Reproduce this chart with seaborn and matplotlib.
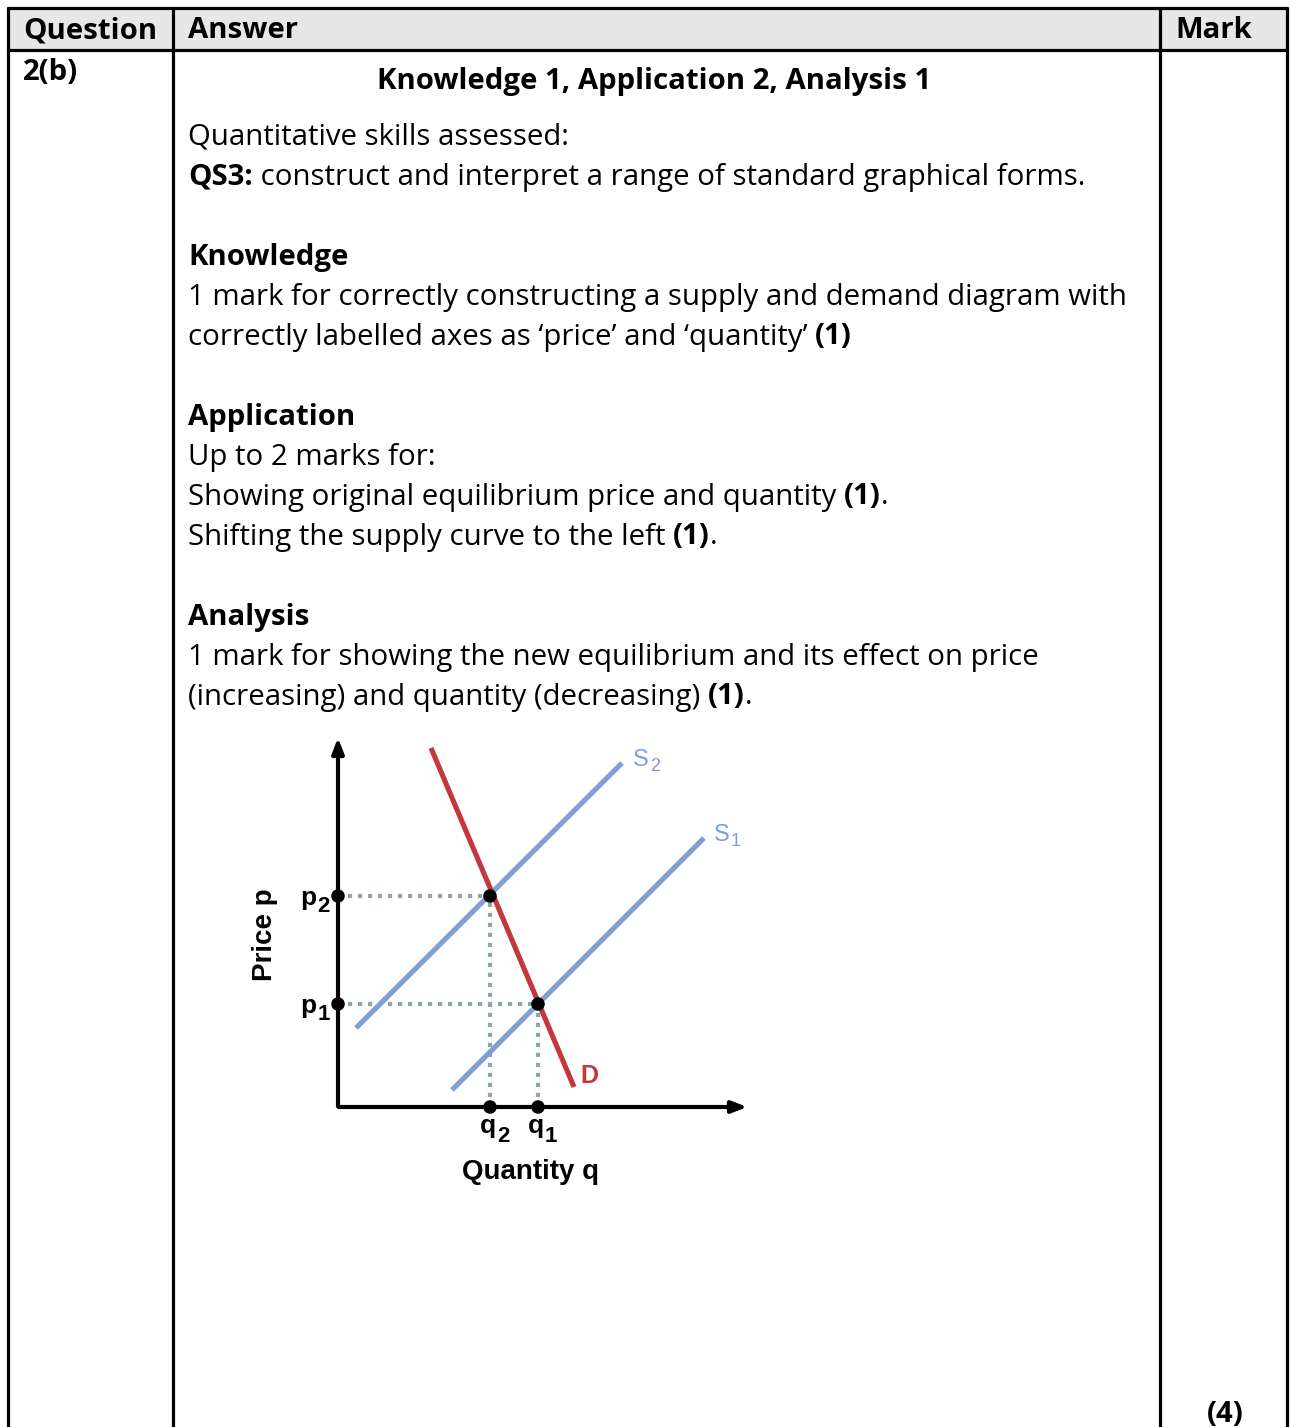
import matplotlib
matplotlib.use("Agg")
import matplotlib.pyplot as plt
import seaborn as sns
import pandas as pd

# =========================
# Datos del diagrama (unidades del gráfico)
# =========================
demanda_q = [9.3, 23.6]
demanda_p = [35.9, 2.0]
s1_q = [11.4, 36.6]
s1_p = [1.7, 26.9]
s2_q = [1.8, 28.4]
s2_p = [7.9, 34.4]
equilibrio_q = [20.0, 15.2]   # q1, q2
equilibrio_p = [10.3, 21.1]   # p1, p2

# =========================
# Textos de la tabla
# =========================
cabeceras = ["Question", "Answer", "Mark"]
pregunta = "2(b)"
titulo = "Knowledge 1, Application 2, Analysis 1"
lineas = [
    [("Quantitative skills assessed:", False)],
    [("QS3:", True), (" construct and interpret a range of standard graphical forms.", False)],
    [],
    [("Knowledge", True)],
    [("1 mark for correctly constructing a supply and demand diagram with", False)],
    [("correctly labelled axes as \u2018price\u2019 and \u2018quantity\u2019 ", False), ("(1)", True)],
    [],
    [("Application", True)],
    [("Up to 2 marks for:", False)],
    [("Showing original equilibrium price and quantity ", False), ("(1)", True), (".", False)],
    [("Shifting the supply curve to the left ", False), ("(1)", True), (".", False)],
    [],
    [("Analysis", True)],
    [("1 mark for showing the new equilibrium and its effect on price", False)],
    [("(increasing) and quantity (decreasing) ", False), ("(1)", True), (".", False)],
]
marca = "(4)"

sns.set_style("white")
plt.rcParams["font.family"] = ["Open Sans", "DejaVu Sans"]
plt.rcParams["text.color"] = "black"

W, H = 1290, 1427
fig = plt.figure(figsize=(W / 100, H / 100), dpi=100)
ax = fig.add_axes([0, 0, 1, 1])
ax.set_xlim(0, W)
ax.set_ylim(H, 0)
ax.axis("off")
renderer = fig.canvas.get_renderer()

FS = 21.15
negro = "#000000"

# =========================
# Tabla
# =========================
ax.fill_between([8, 1287], 8, 50, color="#e7e7e7", zorder=0)
lw = 2.3
ax.plot([8, 1287], [8, 8], color=negro, lw=lw)
ax.plot([8, 1287], [50, 50], color=negro, lw=lw)
for x in [8, 173, 1160, 1287]:
    ax.plot([x, x], [8, H + 5], color=negro, lw=lw)

ax.text(23, 31, cabeceras[0], fontsize=FS, fontweight="bold", va="center")
ax.text(188, 31, cabeceras[1], fontsize=FS, fontweight="bold", va="center")
ax.text(1175, 31, cabeceras[2], fontsize=FS, fontweight="bold", va="center")
ax.text(23, 73, pregunta, fontsize=FS, fontweight="bold", va="center")
ax.text(654, 81, titulo, fontsize=FS, fontweight="bold", va="center", ha="center")
ax.text(1225, 1415, marca, fontsize=FS, fontweight="bold", va="center", ha="center")


def escribir(x, y, segmentos):
    for texto, negrita in segmentos:
        t = ax.text(x, y, texto, fontsize=FS, va="center",
                    fontweight="bold" if negrita else "normal")
        bb = t.get_window_extent(renderer=renderer)
        x += bb.width


y = 137
for segs in lineas:
    if segs:
        escribir(188, y, segs)
    y += 40

# =========================
# Diagrama de oferta y demanda
# =========================
dax = fig.add_axes([338 / W, (H - 1107) / H, 412 / W, 372 / H])
xmax, ymax = 41.2, 37.2
dax.set_xlim(0, xmax)
dax.set_ylim(0, ymax)
dax.axis("off")

azul = "#7f9fdb"
rojo = "#c1393d"
gris = "#8ea6a9"

# lineas punteadas
for q, p in zip(equilibrio_q, equilibrio_p):
    dax.plot([0, q], [p, p], color=gris, lw=3.0, linestyle=(0, (1.0, 1.4)), zorder=1)
    dax.plot([q, q], [0, p], color=gris, lw=3.0, linestyle=(0, (1.0, 1.4)), zorder=1)

curvas = pd.DataFrame({
    "q": s1_q + s2_q + demanda_q,
    "p": s1_p + s2_p + demanda_p,
    "curva": ["S1"] * 2 + ["S2"] * 2 + ["D"] * 2,
})
sns.lineplot(data=curvas, x="q", y="p", hue="curva",
             palette={"S1": azul, "S2": azul, "D": rojo},
             lw=3.7, legend=False, ax=dax, zorder=2, solid_capstyle="butt")

# ejes con flechas
dax.annotate("", xy=(xmax, 0), xytext=(-0.2, 0),
             arrowprops=dict(arrowstyle="-|>,head_length=0.9,head_width=0.35",
                             color=negro, lw=3), annotation_clip=False)
dax.annotate("", xy=(0, ymax), xytext=(0, -0.2),
             arrowprops=dict(arrowstyle="-|>,head_length=0.9,head_width=0.35",
                             color=negro, lw=3), annotation_clip=False)

puntos = pd.DataFrame({
    "q": equilibrio_q + [0, 0] + equilibrio_q,
    "p": equilibrio_p + equilibrio_p + [0, 0],
})
sns.scatterplot(data=puntos, x="q", y="p", color=negro, s=95, ax=dax,
                zorder=5, clip_on=False, edgecolor="none")


def a_pixel(q, p):
    px, py = dax.transData.transform((q, p))
    return px, H - py


def ancho(texto, fs, peso):
    t = ax.text(0, 0, texto, fontsize=fs, family="Liberation Sans", fontweight=peso)
    w = t.get_window_extent(renderer=renderer).width
    t.remove()
    return w


def etiqueta(q, p, base, sub, dx, dy, fs, fs_sub, color="black", peso="bold",
             ha="left", caida=7):
    x, y = a_pixel(q, p)
    wb = ancho(base, fs, peso)
    ws = ancho(sub, fs_sub, peso)
    total = wb + 1 + ws
    x0 = x + dx
    if ha == "right":
        x0 -= total
    elif ha == "center":
        x0 -= wb / 2 + 2
    yb = y + dy
    ax.text(x0, yb, base, fontsize=fs, family="Liberation Sans", fontweight=peso,
            color=color, va="baseline")
    ax.text(x0 + wb + 1, yb + caida, sub, fontsize=fs_sub, family="Liberation Sans",
            fontweight=peso, color=color, va="baseline")


etiqueta(0, equilibrio_p[1], "p", "2", -8, 9, 19, 16, ha="right")
etiqueta(0, equilibrio_p[0], "p", "1", -8, 9, 19, 16, ha="right")
etiqueta(equilibrio_q[1], 0, "q", "2", 0, 26, 19, 16, ha="center", caida=9)
etiqueta(equilibrio_q[0], 0, "q", "1", 0, 26, 19, 16, ha="center", caida=9)
etiqueta(s2_q[1], s2_p[1], "S", "2", 11, 3, 17, 13, color=azul, peso="normal", caida=5)
etiqueta(s1_q[1], s1_p[1], "S", "1", 10, 3, 17, 13, color=azul, peso="normal", caida=5)

dx_d, dy_d = a_pixel(demanda_q[1], demanda_p[1])
ax.text(dx_d + 6, dy_d - 4, "D", fontsize=18, color=rojo,
        family="Liberation Sans", fontweight="bold", va="baseline")
dax.text(-7.3, 17.2, "Price p", fontsize=20, rotation=90, ha="center", va="center",
         family="Liberation Sans", fontweight="bold")
dax.text(19.2, -6.5, "Quantity q", fontsize=20, ha="center", va="center",
         family="Liberation Sans", fontweight="bold")

fig.savefig("out.png", dpi=100)
